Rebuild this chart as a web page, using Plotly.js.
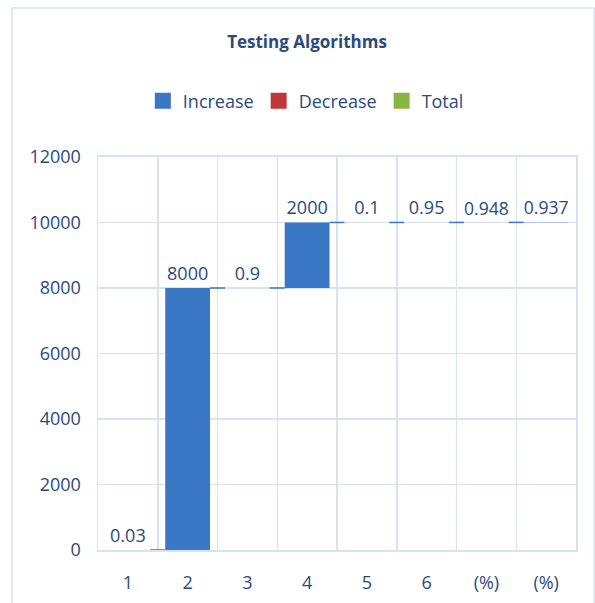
<!DOCTYPE html>
<html><head><meta charset="utf-8">
<script src="https://cdn.plot.ly/plotly-3.0.1.min.js"></script>
<style>html,body{margin:0;padding:0;background:#fff}#c{width:595px;height:603px}
#c .trace.bars path{shape-rendering:geometricPrecision !important;}</style>
</head><body><div id="c"></div>
<script>
const categories = ["1","2","3","4","5","6","(%)","(%)"];
const values = [0.03, 8000, 0.9, 2000, 0.1, 0.95, 0.948, 0.937];
const labels = ["0.03","8000","0.9","2000","0.1","0.95","0.948","0.937"];
const legendNames = ["Increase","Decrease","Total"];
const legendColors = ["#3a77c4","#c0373a","#8ab53f"];

const pos = categories.map((c,i)=>i);
const txtColor = "#2b4a7c";
const font = "Open Sans, Lato, sans-serif";
const grid = "#d5e3f4";
const barW = 0.75;

// running totals for connector segments between neighbouring bars
const cum = [];
values.reduce((s,v,i)=>{cum[i]=s+v;return cum[i];},0);
const cx = [], cy = [];
for(let i=0;i<values.length-1;i++){
  cx.push(pos[i]+barW/2, pos[i+1]-barW/2, null);
  cy.push(cum[i], cum[i], null);
}

const traces = [{
  type:"waterfall",
  x: pos, y: values,
  measure: values.map(()=> "relative"),
  text: labels, textposition:"outside",
  textfont:{size:18,color:txtColor,family:font},
  cliponaxis:false,
  width:barW,
  increasing:{marker:{color:"rgba(58,119,196,0.999)"}},
  decreasing:{marker:{color:"rgba(192,55,58,0.999)"}},
  totals:{marker:{color:"rgba(138,181,63,0.999)"}},
  connector:{visible:false},
  showlegend:false, hoverinfo:"skip"
},{
  type:"scatter",mode:"lines",x:cx,y:cy,connectgaps:false,cliponaxis:true,
  line:{color:"#3a77c4",width:1.5},showlegend:false,hoverinfo:"skip"
}];
legendNames.forEach((n,i)=>traces.push({type:"scatter",mode:"markers",x:[null],y:[null],name:n,
  marker:{symbol:"square",size:16,color:legendColors[i]},showlegend:true}));

const layout = {
  width:595,height:603,
  margin:{l:98,r:19,t:157,b:53},
  paper_bgcolor:"#fff",plot_bgcolor:"#fff",
  font:{family:font,color:txtColor,size:18},
  title:{text:"<b>Testing Algorithms</b>",xref:"container",x:0.516,xanchor:"center",yref:"container",y:1-42/603,yanchor:"middle",font:{size:17,color:txtColor,family:font}},
  showlegend:true,
  legend:{orientation:"h",xref:"container",x:0.514,xanchor:"center",yref:"container",y:1-101/603,yanchor:"middle",font:{size:18,color:txtColor},itemwidth:30,traceorder:"normal"},
  xaxis:{range:[-0.5,7.5],tickvals:pos,ticktext:categories,showgrid:false,zeroline:false,
    showline:true,linecolor:grid,linewidth:2,mirror:true,ticks:"outside",ticklen:15,tickcolor:"rgba(0,0,0,0)",
    tickfont:{size:18,color:txtColor},
    minor:{tick0:0.5,dtick:1,showgrid:true,gridcolor:grid,gridwidth:1.5,ticks:""}},
  yaxis:{range:[0,12000],dtick:2000,tickformat:"d",showgrid:true,gridcolor:grid,gridwidth:1.5,zeroline:false,
    showline:true,linecolor:grid,linewidth:1.5,mirror:true,ticks:"outside",ticklen:12,tickcolor:"rgba(0,0,0,0)",
    tickfont:{size:18,color:txtColor}},
  shapes:[{type:"rect",xref:"paper",yref:"paper",x0:(12-98)/478,x1:(594-98)/478,y0:(550-606)/393,y1:(550-8)/393,line:{color:grid,width:1.5},layer:"below"}]
};
Plotly.newPlot("c",traces,layout,{displayModeBar:false,staticPlot:true});
</script></body></html>
